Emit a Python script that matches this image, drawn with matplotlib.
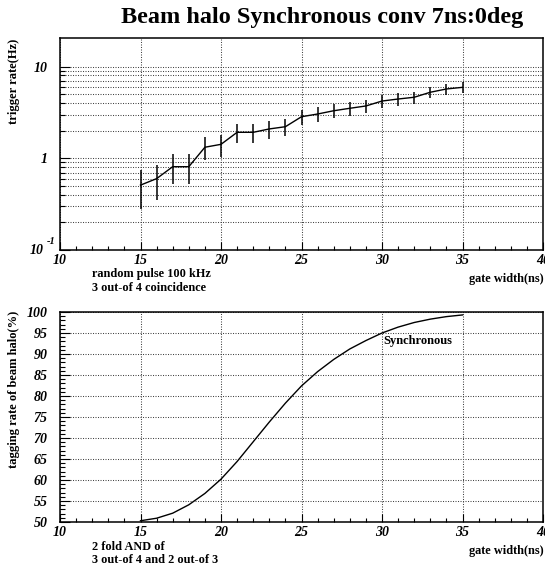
import matplotlib
matplotlib.use('Agg')
import matplotlib.pyplot as plt
from matplotlib.ticker import FixedLocator, MultipleLocator, FuncFormatter

# ---- data ----
gate_width = [15, 16, 17, 18, 19, 20, 21, 22, 23, 24, 25,
              26, 27, 28, 29, 30, 31, 32, 33, 34, 35]
trigger_rate = [0.51, 0.60, 0.81, 0.81, 1.32, 1.42, 1.92, 1.92, 2.09, 2.21, 2.84,
                3.04, 3.30, 3.51, 3.72, 4.21, 4.43, 4.63, 5.25, 5.70, 5.94]
trigger_err = [0.23, 0.25, 0.29, 0.29, 0.37, 0.38, 0.44, 0.44, 0.46, 0.47, 0.54,
               0.56, 0.58, 0.60, 0.62, 0.66, 0.67, 0.69, 0.73, 0.76, 0.78]
tag_rate = [50.3, 50.9, 52.1, 54.1, 56.8, 60.2, 64.4, 69.1, 73.8, 78.3, 82.4,
            85.8, 88.7, 91.2, 93.2, 95.0, 96.4, 97.5, 98.3, 98.9, 99.3]

x_major = [10, 15, 20, 25, 30, 35, 40]
x_labels = ['10', '15', '20', '25', '30', '35', '40']
log_major = [0.1, 1, 10]
log_labels = ['', '1', '10']   # 10^-1 drawn separately, ROOT style
log_minor = [0.2, 0.3, 0.4, 0.5, 0.6, 0.7, 0.8, 0.9, 2, 3, 4, 5, 6, 7, 8, 9]
pct_major = [50, 55, 60, 65, 70, 75, 80, 85, 90, 95, 100]

title = 'Beam halo Synchronous conv 7ns:0deg'

plt.rcParams['font.family'] = ['Liberation Serif', 'DejaVu Serif']

W, H = 545, 570
fig = plt.figure(figsize=(W / 100, H / 100), dpi=100)
fig.patch.set_facecolor('white')

def fx(px):
    return px / W

def fy(py):
    return 1 - py / H

ax1 = fig.add_axes([fx(60), fy(250), 483 / W, 212 / H])
ax2 = fig.add_axes([fx(60), fy(522), 483 / W, 210 / H])

grid_kw = dict(color='#444444', linestyle=(0, (1, 1.4)), linewidth=0.75)
tick_font = dict(fontsize=10, fontweight='bold', fontstyle='italic')

for ax in (ax1, ax2):
    for s in ax.spines.values():
        s.set_linewidth(1.1)
    ax.set_xlim(10, 40)
    ax.xaxis.set_major_locator(FixedLocator(x_major))
    ax.xaxis.set_minor_locator(MultipleLocator(1))
    ax.set_xticklabels(x_labels, **tick_font)
    ax.tick_params(axis='both', which='both', direction='in', top=False, right=False,
                   width=0.8, colors='black')
    ax.tick_params(axis='x', which='major', length=6, pad=3)
    ax.tick_params(axis='x', which='minor', length=3)
    ax.tick_params(axis='y', which='major', length=7, pad=9)
    ax.tick_params(axis='y', which='minor', length=3.5)
    ax.grid(True, axis='x', which='major', **grid_kw)
    ax.set_axisbelow(True)

# ---- top panel ----
ax1.set_yscale('log')
ax1.set_ylim(0.1, 20.5)
ax1.yaxis.set_major_locator(FixedLocator(log_major))
ax1.yaxis.set_minor_locator(FixedLocator(log_minor))
ax1.yaxis.set_minor_formatter(FuncFormatter(lambda v, p: ''))
ax1.set_yticklabels(log_labels, **tick_font)
ax1.grid(True, axis='y', which='both', **grid_kw)
ax1.errorbar(gate_width, trigger_rate, yerr=trigger_err, color='black',
             linewidth=1.0, elinewidth=1.1, capsize=0, zorder=3)

# 10^-1 label in ROOT style
fig.text(fx(44), fy(251), '10', ha='right', va='center', **tick_font)
fig.text(fx(47), fy(241), '-1', ha='left', va='center',
         fontsize=7.5, fontweight='bold', fontstyle='italic')

# ---- bottom panel ----
ax2.set_ylim(50, 100)
ax2.yaxis.set_major_locator(FixedLocator(pct_major))
ax2.yaxis.set_minor_locator(MultipleLocator(1))
ax2.set_yticklabels([str(v) for v in pct_major], **tick_font)
ax2.grid(True, axis='y', which='major', **grid_kw)
ax2.plot(gate_width, tag_rate, color='black', linewidth=1.0, zorder=3)
ax2.text(fx(383), fy(341), 'Synchronous', transform=fig.transFigure,
         fontsize=9, fontweight='bold', ha='left', va='center')

# ---- texts ----
fig.text(fx(322), fy(17), title, fontsize=17.5, fontweight='bold',
         ha='center', va='center')

lab_kw = dict(fontsize=9, fontweight='bold', rotation=90, rotation_mode='anchor')
fig.text(fx(14), fy(39), 'trigger rate(Hz)', ha='right', va='center', **lab_kw)
fig.text(fx(14), fy(311), 'tagging rate of beam halo(%)', ha='right', va='center', **lab_kw)

txt_kw = dict(fontsize=8.8, fontweight='bold', va='center')
fig.text(fx(92), fy(274), 'random pulse 100 kHz', ha='left', **txt_kw)
fig.text(fx(92), fy(288), '3 out-of 4 coincidence', ha='left', **txt_kw)
fig.text(fx(544), fy(279), 'gate width(ns)', ha='right', **txt_kw)

fig.text(fx(92), fy(547), '2 fold AND of', ha='left', **txt_kw)
fig.text(fx(92), fy(560), '3 out-of 4 and 2 out-of 3', ha='left', **txt_kw)
fig.text(fx(544), fy(551), 'gate width(ns)', ha='right', **txt_kw)

fig.savefig('out.png', dpi=100, facecolor='white')
